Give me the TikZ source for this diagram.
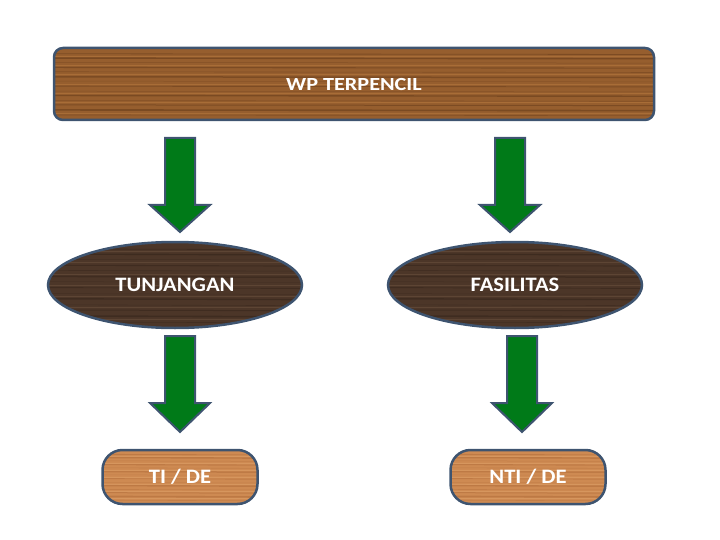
\documentclass[tikz,border=0pt]{standalone}
\usepackage{fontspec}
\setmainfont{Carlito}
\newfontfamily\toplabelfont[FakeStretch=1.2]{Carlito}
\newfontfamily\labelfont[FakeStretch=1.1]{Carlito}
\usetikzlibrary{calc,shapes.geometric}
\definecolor{bordc}{RGB}{62,84,112}
\definecolor{woodmid}{RGB}{150,94,46}
\definecolor{wooddark}{RGB}{100,58,25}
\definecolor{woodlight}{RGB}{190,128,66}
\definecolor{darkwood}{RGB}{76,54,40}
\definecolor{darkwoodlo}{RGB}{52,36,26}
\definecolor{darkwoodhi}{RGB}{115,88,68}
\definecolor{lightwood}{RGB}{206,138,82}
\definecolor{lightwooddk}{RGB}{176,108,58}
\definecolor{lightwoodhi}{RGB}{225,165,110}
\definecolor{arrowgreen}{RGB}{0,122,24}
\tikzset{
  txt/.style={text=white,font=\labelfont\bfseries\fontsize{20.5}{22}\selectfont},
  grain/.style n args={2}{path picture={
    \foreach \f/\w/\o in {0.08/0.8/0.5,0.14/1.4/0.6,0.2/0.5/0.4,0.27/1.1/0.5,0.33/0.6/0.4,0.4/1.5/0.5,
        0.46/0.5/0.3,0.53/0.9/0.5,0.6/0.5/0.35,0.66/1.4/0.55,0.73/0.6/0.4,0.79/1.0/0.5,0.86/1.6/0.55,0.93/0.6/0.4}{
      \draw[#1,line width=\w pt,opacity=\o]
        ($(path picture bounding box.north west)!\f!(path picture bounding box.south west)$)
        -- ($(path picture bounding box.north east)!\f+0.01!(path picture bounding box.south east)$);}
    \foreach \f/\w in {0.11/0.5,0.24/0.7,0.37/0.5,0.5/0.7,0.63/0.5,0.76/0.6,0.9/0.5}{
      \draw[#2,line width=\w pt,opacity=0.45]
        ($(path picture bounding box.north west)!\f!(path picture bounding box.south west)$)
        -- ($(path picture bounding box.north east)!\f!(path picture bounding box.south east)$);}
  }},
  topbox/.style={draw=bordc,line width=2.5pt,fill=woodmid,rounded corners=9pt,
    minimum width=600pt,minimum height=72pt,inner sep=0pt,txt,
    font=\toplabelfont\bfseries\fontsize{18.5}{20}\selectfont,grain={wooddark}{woodlight}},
  ellbox/.style={draw=bordc,line width=2.5pt,fill=darkwood,ellipse,
    minimum width=254pt,minimum height=86pt,inner sep=0pt,txt,grain={darkwoodlo}{darkwoodhi}},
  pillbox/.style={draw=bordc,line width=2.5pt,fill=lightwood,rounded corners=20pt,
    minimum width=155pt,minimum height=54pt,inner sep=0pt,txt,grain={lightwooddk}{lightwoodhi}},
  blockarr/.style={draw=bordc,line width=2pt,fill=arrowgreen,line join=miter}
}
\newcommand\blockarrow[4]{%
  \draw[blockarr] (#1-15,#2) -- (#1+15,#2) -- (#1+15,#3) -- (#1+30,#3) -- (#1,#4)
    -- (#1-30,#3) -- (#1-15,#3) -- cycle;}
\begin{document}
\begin{tikzpicture}[x=1pt,y=-1pt]
\useasboundingbox (0,0) rectangle (720,540);
\node[topbox] (top) at (354,84) {WP TERPENCIL};
\node[ellbox] (tunj) at (175,285) {TUNJANGAN};
\node[ellbox] (fas) at (515,285) {FASILITAS};
\node[pillbox] (ti) at (180,477) {TI / DE};
\node[pillbox] (nti) at (528,477) {NTI / DE};
\blockarrow{180}{138}{205}{232}
\blockarrow{510}{138}{205}{232}
\blockarrow{180}{336}{403}{432}
\blockarrow{522}{336}{403}{432}
\end{tikzpicture}
\end{document}
